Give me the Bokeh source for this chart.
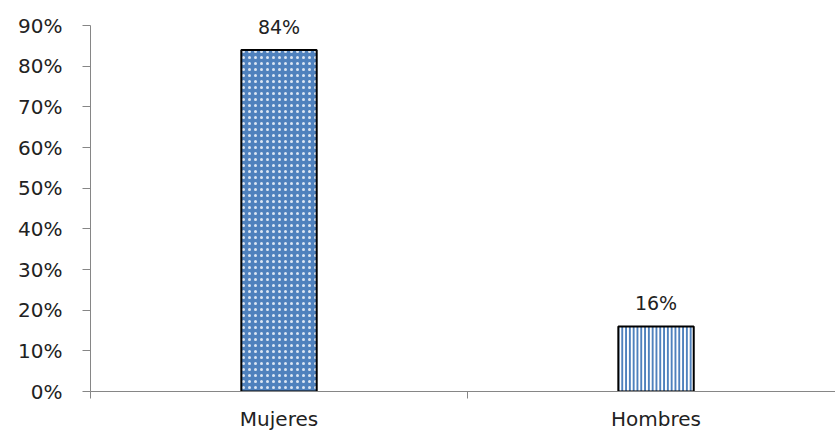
from bokeh.plotting import figure
from bokeh.models import FixedTicker, NumeralTickFormatter, ColumnDataSource, LabelSet, Range1d
from bokeh.core.properties import value
from bokeh.embed import file_html
from bokeh.resources import INLINE

categories = ["Mujeres", "Hombres"]
values = [0.84, 0.16]
value_labels = ["84%", "16%"]

styles = [
    dict(fill_color="#4F81BD", hatch_pattern="dot", hatch_color="#FFFFFF", hatch_scale=6, hatch_weight=1.2, hatch_alpha=0.8),
    dict(fill_color="#FFFFFF", hatch_pattern="vertical_line", hatch_color="#4F81BD", hatch_scale=3.8, hatch_weight=2, hatch_alpha=1.0),
]

xpos = [i + 0.5 for i in range(len(categories))]

FONT = "DejaVu Sans"
p = figure(frame_width=745, frame_height=391, output_backend="svg", toolbar_location=None,
           x_range=Range1d(0, 1.976), y_range=Range1d(0, 0.9615),
           min_border_left=90, min_border_right=0, min_border_top=0, min_border_bottom=0)
p.outline_line_color = None
p.grid.visible = False
p.background_fill_color = "white"

for i in range(len(categories)):
    s = ColumnDataSource(dict(x=[xpos[i]], top=[values[i]]))
    p.vbar(x="x", top="top", width=0.2, bottom=0, source=s,
           line_color="black", line_width=2, **styles[i])

src = ColumnDataSource(dict(x=xpos, top=values, lab=value_labels))
labels = LabelSet(x="x", y="top", text="lab", source=src, text_align="center",
                  text_baseline="bottom", y_offset=12, text_font_size="19px",
                  text_font=value(FONT), text_color="#222222")
p.add_layout(labels)

xa = p.xaxis[0]
xa.ticker = FixedTicker(ticks=xpos, minor_ticks=[0, 1, 2])
xa.major_label_overrides = {x: c for x, c in zip(xpos, categories)}
xa.major_tick_out = 0
xa.major_tick_in = 0
xa.minor_tick_out = 7
xa.minor_tick_in = 0
xa.axis_line_color = "#868686"
xa.minor_tick_line_color = "#868686"
xa.major_label_standoff = 8
xa.major_label_text_font = FONT
xa.major_label_text_font_size = "20px"
xa.major_label_text_color = "#222222"

ya = p.yaxis[0]
ya.ticker = FixedTicker(ticks=[i / 10 for i in range(10)])
ya.bounds = (0, 0.9)
ya.formatter = NumeralTickFormatter(format="0%")
ya.major_tick_out = 8
ya.major_tick_in = 0
ya.minor_tick_line_color = None
ya.axis_line_color = "#868686"
ya.major_tick_line_color = "#868686"
ya.major_label_standoff = 20
ya.major_label_text_font = FONT
ya.major_label_text_font_size = "20px"
ya.major_label_text_color = "#222222"

open("out.html", "w").write(file_html(p, INLINE))
